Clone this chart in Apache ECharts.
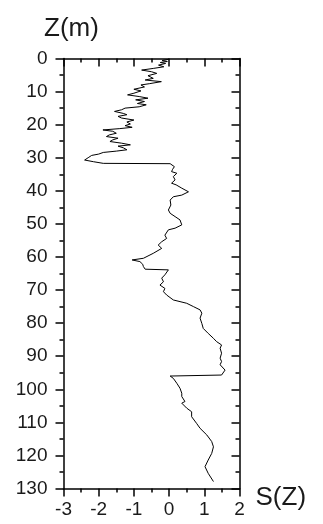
<!DOCTYPE html>
<html>
<head>
<meta charset="utf-8">
<script src="https://cdn.jsdelivr.net/npm/echarts@6/dist/echarts.min.js"></script>
<style>html,body{margin:0;padding:0;background:#fff}#c{width:323px;height:524px}</style>
</head>
<body>
<div id="c"></div>
<script>
// Depth Z (m) and S(Z) values
var depthZ = [0.2,0.6,0.9,1.2,1.5,2.0,2.5,3.0,3.5,4.0,4.5,5.2,6.0,6.5,7.0,7.6,8.0,8.6,9.3,9.8,
  10.5,11.0,11.5,12.0,12.5,13.0,13.6,14.0,14.6,15.0,15.5,16.0,16.6,17.0,17.5,18.0,18.6,19.2,19.8,
  20.3,20.8,21.2,21.6,22.0,22.6,23.1,23.6,24.1,24.6,25.1,25.6,26.1,26.5,27.0,27.6,28.0,28.4,28.9,
  29.3,30.0,30.7,31.2,31.7,31.8,32.7,33.5,34.2,34.7,35.7,36.7,37.7,38.2,39.2,40.3,41.3,41.8,42.8,
  44.3,45.8,46.8,47.8,48.8,50.3,51.3,51.8,53.4,54.4,55.4,56.4,57.4,58.9,60.4,60.9,61.4,62.2,62.9,
  63.7,63.9,64.5,65.4,66.4,67.5,68.5,69.5,70.5,71.5,73.0,74.0,75.0,76.0,77.0,78.5,80.1,81.6,83.1,
  84.6,85.6,86.6,87.6,89.1,90.6,91.6,92.6,94.2,95.7,96.0,96.7,98.2,99.7,101.2,102.2,103.7,104.2,
  105.7,106.8,108.3,110.3,111.8,113.8,115.8,117.4,119.4,121.4,123.4,125.4,127.9];
var valueS = [0.0,-0.2,-0.05,-0.25,-0.1,-0.3,-0.15,-0.45,-0.78,-0.5,-0.35,-0.6,-0.45,-0.68,-0.22,-0.55,-0.8,-0.7,-1.0,-0.8,
  -1.0,-1.18,-0.85,-0.6,-0.95,-0.7,-0.9,-0.65,-0.85,-1.25,-1.35,-1.55,-1.3,-1.2,-1.45,-1.35,-1.0,-1.2,-1.1,
  -1.25,-1.05,-1.4,-1.88,-1.6,-1.5,-1.7,-1.78,-1.45,-1.6,-1.68,-1.35,-1.1,-1.45,-1.3,-1.2,-1.5,-1.87,-2.0,
  -2.2,-2.3,-2.4,-2.15,-1.87,0.03,0.15,0.1,0.07,0.22,0.12,0.17,0.07,0.2,0.36,0.55,0.36,0.12,0.03,
  0.05,-0.02,0.03,0.17,0.31,0.36,0.17,-0.02,-0.12,-0.07,-0.21,-0.31,-0.21,-0.45,-0.73,-1.05,-0.83,-0.75,-0.73,
  -0.68,-0.02,0.0,-0.12,-0.21,-0.16,-0.26,-0.12,-0.16,-0.07,0.12,0.5,0.69,0.88,0.93,0.88,0.93,0.97,1.11,
  1.26,1.35,1.49,1.45,1.49,1.45,1.49,1.45,1.59,1.49,0.03,0.12,0.22,0.31,0.36,0.36,0.45,0.36,
  0.5,0.64,0.64,0.78,0.88,1.07,1.21,1.26,1.21,1.11,1.02,1.11,1.26];
var xTicks = [-3,-2,-1,0,1,2];
var yTicks = [0,10,20,30,40,50,60,70,80,90,100,110,120,130];

var pts = depthZ.map(function(z,i){ return [valueS[i], z]; });
var FONT = 'Liberation Sans';
var TXT = '#1a1a1a';
function xAx(pos, inside, showLabel){
  return {
    type:'value', position:pos, min:xTicks[0], max:xTicks[xTicks.length-1], interval:1,
    axisLine:{show:true, onZero:false, lineStyle:{color:'#000', width:1.5}},
    axisTick:{show:true, inside:inside, length:8, lineStyle:{color:'#000', width:1.5}},
    minorTick:{show:true, splitNumber:2, length:4, lineStyle:{color:'#000', width:1.5}},
    splitLine:{show:false},
    axisLabel:{show:showLabel, margin:12, fontFamily:FONT, fontSize:19, color:TXT},
    name: showLabel ? 'S(Z)' : '', nameLocation:'end', nameGap:16,
    nameTextStyle:{fontFamily:FONT, fontSize:26, color:TXT, align:'left', verticalAlign:'top', lineHeight:18}
  };
}
function yAx(pos, inside, showLabel){
  return {
    type:'value', position:pos, inverse:true, min:yTicks[0], max:yTicks[yTicks.length-1], interval:10,
    axisLine:{show:true, onZero:false, lineStyle:{color:'#000', width:1.5}},
    axisTick:{show:true, inside:inside, length:8, lineStyle:{color:'#000', width:1.5}},
    minorTick:{show:true, splitNumber:2, length:4, lineStyle:{color:'#000', width:1.5}},
    splitLine:{show:false},
    axisLabel:{show:showLabel, margin:16, fontFamily:FONT, fontSize:19, color:TXT},
    name: showLabel ? 'Z(m)' : '', nameLocation:'start', nameGap:30,
    nameTextStyle:{fontFamily:FONT, fontSize:26, color:TXT, align:'center', verticalAlign:'middle', padding:[0,0,0,16]}
  };
}
var chart = echarts.init(document.getElementById('c'), null, {renderer:'canvas'});
chart.setOption({
  animation:false,
  backgroundColor:'#fff',
  grid:{left:63.5, top:58.5, width:176, height:430, containLabel:false},
  xAxis:[xAx('bottom', false, true), xAx('top', true, false)],
  yAxis:[yAx('left', false, true), yAx('right', true, false)],
  series:[{
    type:'line', xAxisIndex:0, yAxisIndex:0, data:pts, showSymbol:false, symbol:'none',
    lineStyle:{color:'#000', width:1}, clip:true
  }]
});
</script>
</body>
</html>
